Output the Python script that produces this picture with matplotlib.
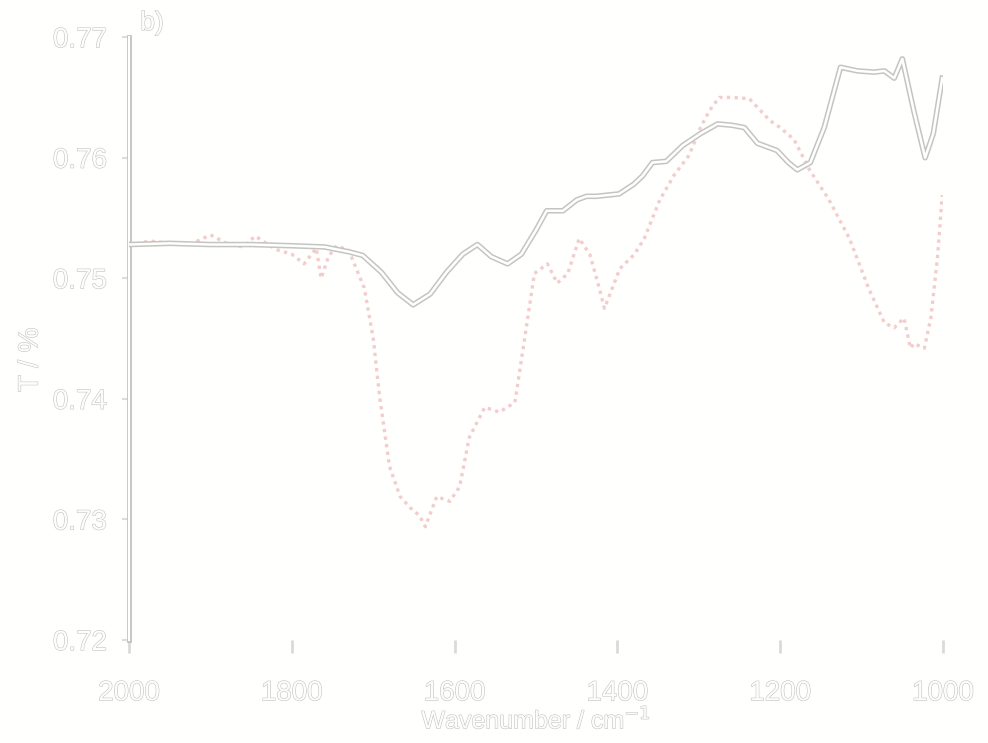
import matplotlib
matplotlib.use('Agg')
import matplotlib.pyplot as plt
import matplotlib.patheffects as pe
import numpy as np

# solid (grey) spectrum, wavenumber / transmittance
wn_a = [2000, 1950, 1900, 1850, 1800, 1760, 1730, 1713, 1690, 1670, 1651, 1630,
        1610, 1590, 1572, 1555, 1535, 1518, 1500, 1487, 1467, 1450, 1438, 1426,
        1398, 1380, 1369, 1357, 1340, 1320, 1298, 1277, 1260, 1244, 1228, 1204,
        1190, 1179, 1163, 1146, 1126, 1105, 1085, 1072, 1060, 1050, 1036, 1022,
        1012, 1001]
t_a = [0.7528, 0.7529, 0.7528, 0.7528, 0.7527, 0.7526, 0.7522, 0.7519, 0.7505,
       0.7488, 0.7478, 0.7487, 0.7505, 0.7520, 0.7528, 0.7518, 0.7512, 0.7520,
       0.7540, 0.7556, 0.7556, 0.7565, 0.7568, 0.7568, 0.7570, 0.7578, 0.7585,
       0.7596, 0.7597, 0.7610, 0.7620, 0.7628, 0.7627, 0.7625, 0.7612, 0.7606,
       0.7596, 0.7590, 0.7596, 0.7625, 0.7675, 0.7672, 0.7671, 0.7672, 0.7666,
       0.7682, 0.7639, 0.7600, 0.7620, 0.7666]

# dotted (pink) spectrum
wn_b = [2000, 1975, 1950, 1925, 1900, 1880, 1860, 1845, 1820, 1800, 1785, 1770,
        1764, 1755, 1745, 1730, 1711, 1700, 1692, 1680, 1667, 1655, 1643, 1636,
        1622, 1606, 1594, 1582, 1563, 1545, 1526, 1514, 1502, 1486, 1474, 1461,
        1447, 1434, 1422, 1416, 1397, 1379, 1367, 1348, 1330, 1312, 1298, 1287,
        1275, 1260, 1238, 1213, 1200, 1183, 1164, 1140, 1115, 1091, 1072, 1060,
        1048, 1040, 1036, 1023, 1015, 1007, 1001]
t_b = [0.7527, 0.7531, 0.7529, 0.7528, 0.7536, 0.7529, 0.7526, 0.7535, 0.7524,
       0.7520, 0.7512, 0.7525, 0.7500, 0.7518, 0.7527, 0.7523, 0.7492, 0.7450,
       0.7401, 0.7344, 0.7319, 0.7310, 0.7303, 0.7294, 0.7319, 0.7315, 0.7327,
       0.7368, 0.7393, 0.7389, 0.7397, 0.7450, 0.7504, 0.7512, 0.7496, 0.7504,
       0.7533, 0.7520, 0.7491, 0.7475, 0.7508, 0.7520, 0.7533, 0.7565, 0.7586,
       0.7602, 0.7625, 0.7639, 0.7650, 0.7650, 0.7649, 0.7631, 0.7625, 0.7615,
       0.7590, 0.7565, 0.7533, 0.7491, 0.7463, 0.7459, 0.7467, 0.7442, 0.7446,
       0.7442, 0.7467, 0.7516, 0.7569]

x_ticks = [2000, 1800, 1600, 1400, 1200, 1000]
y_ticks = [0.72, 0.73, 0.74, 0.75, 0.76, 0.77]

plt.rcParams['font.family'] = ['Liberation Sans', 'DejaVu Sans']

bg = '#fffffd'
edge = '#c4c4c4'
outline = [pe.Stroke(linewidth=4.0, foreground=edge), pe.Stroke(linewidth=1.8, foreground=bg)]
txt_fx = [pe.Stroke(linewidth=0.8, foreground='#c2c2c2'), pe.Normal()]

fig = plt.figure(figsize=(9.88, 7.43), dpi=100, facecolor=bg)
ax = fig.add_axes([0.1306, 0.1386, 0.8239, 0.8114], facecolor=bg)

ax.plot(wn_a, t_a, color=bg, linewidth=1.8, path_effects=outline, zorder=3)
ax.plot(wn_b, t_b, color='#f3cccc', linewidth=2.4, linestyle=(0, (1, 1.3)), zorder=2)

ax.set_xlim(2000, 1000)
ax.set_ylim(0.72, 0.77)
ax.set_xticks(x_ticks)
ax.set_yticks(y_ticks)
ax.set_xticklabels([str(v) for v in x_ticks])
ax.set_yticklabels(['%.2f' % v for v in y_ticks])

for s in ['top', 'right', 'bottom']:
    ax.spines[s].set_visible(False)
ax.spines['left'].set_color(bg)
ax.spines['left'].set_linewidth(1.5)
ax.spines['left'].set_path_effects([pe.Stroke(linewidth=3.5, foreground=edge),
                                    pe.Stroke(linewidth=1.5, foreground=bg)])

ax.tick_params(axis='x', direction='out', length=9, width=2.0, color='#dadada',
               pad=20, labelsize=20, labelcolor='#fdfdfd')
ax.tick_params(axis='y', direction='out', length=5, width=1.5, color='#dcdcdc',
               pad=11, labelsize=20, labelcolor='#fdfdfd')
for lab in ax.get_xticklabels() + ax.get_yticklabels():
    lab.set_path_effects(txt_fx)

ax.set_xlabel('Wavenumber / cm$^{-1}$', fontsize=18, color='#fdfdfd',
              path_effects=txt_fx)
ax.xaxis.set_label_coords(0.5, -0.11)
ax.set_ylabel('T / %', fontsize=20, color='#fdfdfd', path_effects=txt_fx)
ax.yaxis.set_label_coords(-0.105, 0.465)

fig.text(0.142, 0.969, 'b)', fontsize=19, color='#fdfdfd', ha='left', va='center',
         path_effects=txt_fx)

plt.savefig('out.png', dpi=100, facecolor=bg)
